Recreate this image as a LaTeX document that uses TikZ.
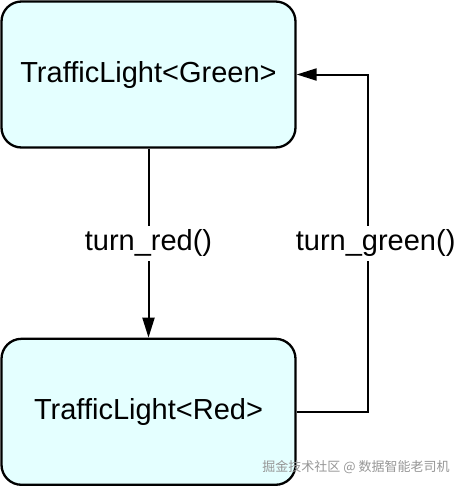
\documentclass[tikz,border=0pt]{standalone}
\usepackage{fontspec}
\setmainfont{Liberation Sans}
\newfontfamily\cjkfont{Noto Sans CJK SC}
\usetikzlibrary{arrows.meta,positioning}
\definecolor{statefill}{HTML}{E4FFFF}
\definecolor{markgray}{RGB}{150,150,150}

\begin{document}
\begin{tikzpicture}[x=1pt,y=-1pt,node distance=189pt,font=\fontsize{29}{34}\selectfont]
  \tikzset{
    statebox/.style={draw,rounded corners=20pt,line width=2.3pt,fill=statefill,
      minimum width=294pt,minimum height=146pt,inner sep=0pt},
    trans/.style={-{Triangle[length=20pt,width=12pt]},line width=2pt},
    translabel/.style={fill=white,inner sep=4pt}
  }
  \useasboundingbox (0,0) rectangle (458,488);
  \node[statebox] (green) at (148.5,74.5) {TrafficLight<Green>};
  \node[statebox,below=of green] (red) {TrafficLight<Red>};
  \draw[trans] (green) -- (red) node[midway,translabel] {turn\_red()};
  \draw[trans] (red.east) -- ++(71,0) |- (green.east)
    node[pos=0.25,translabel,xshift=8pt] {turn\_green()};
  % watermark
  \node[font=\cjkfont\fontsize{13}{15}\selectfont,text=markgray] (mark) at (356,467) {掘金技术社区 @ 数据智能老司机};
\end{tikzpicture}
\end{document}
